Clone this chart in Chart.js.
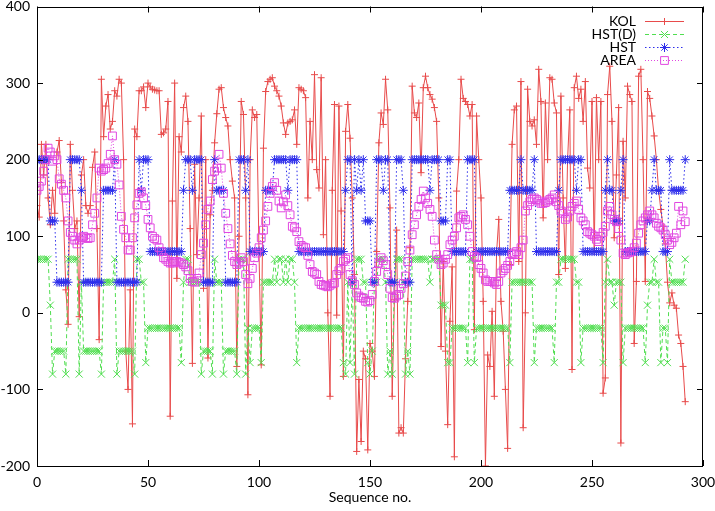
<!DOCTYPE html>
<html><head><meta charset="utf-8">
<script src="https://cdn.jsdelivr.net/npm/chart.js@4/dist/chart.umd.min.js"></script>
<style>html,body{margin:0;padding:0;background:#fff;}#wrap{width:715px;height:511px;}</style>
</head><body><div id="wrap"><canvas id="c" width="715" height="511"></canvas></div>
<script>
const SERIES_NAMES = ['KOL', 'HST(D)', 'HST', 'AREA'];
const X_TICKS = [0, 50, 100, 150, 200, 250, 300];
const Y_TICKS = [-200, -100, 0, 100, 200, 300, 400];
const X_TITLE = 'Sequence no.';

const KOL = [140,125,220,180,220,150,115,160,130,210,225,170,120,30,-15,220,160,110,120,-5,180,200,140,130,140,190,210,110,-35,
305,230,270,285,240,250,290,283,305,300,200,-50,-100,30,-145,240,230,290,290,295,268,300,295,292,291,290,290,233,235,240,276,-135,146,300,45,230,
210,268,283,250,110,-66,194,76,150,257,32,200,-59,128,160,222,260,292,294,268,255,244,200,172,150,-70,100,276,259,150,-107,
200,265,255,259,80,-68,215,289,302,305,307,296,290,283,270,248,233,248,250,252,265,220,294,292,290,281,150,250,200,311,187,163,
307,102,200,0,-109,160,272,-3,270,133,-83,237,272,228,150,50,-181,-87,-168,-50,-60,-179,-40,-50,-83,80,222,261,246,305,265,
137,-109,17,108,-157,-150,-157,-60,15,85,296,261,255,274,183,294,309,294,285,279,268,250,150,-44,67,-50,-146,-11,60,-188,159,
200,305,280,276,272,257,272,-22,257,200,150,15,-200,-55,-70,2,-109,78,122,15,-24,-100,-177,63,220,265,270,67,302,-150,0,292,250,
244,252,220,318,276,124,274,200,307,305,274,261,50,283,150,58,200,265,-74,294,309,280,292,250,302,189,163,276,80,281,200,
276,-105,-85,285,322,250,98,180,268,-170,224,150,296,285,276,-40,41,309,318,200,41,289,280,257,231,200,160,135,113,90,40,13,26,10,6,-29,-40,-70,-116];

const HST_D = [70,70,70,70,70,70,10,-80,-50,-50,-50,-50,-50,-80,70,70,70,70,70,-80,40,-50,-50,-50,-50,-50,-50,-50,-50,-80,40,40,40,
40,40,70,-80,-50,-50,-50,-50,-50,-50,-50,-80,70,70,40,40,-65,-20,-20,-20,-20,-20,-20,-20,-20,-20,-20,-20,-20,-20,-20,-20,
-65,40,70,70,40,40,40,40,40,-80,-50,-50,-50,-50,-80,70,40,40,40,-80,-50,-50,-50,-50,-50,-80,70,70,70,-80,-20,
-65,-20,-20,-20,-20,-65,40,40,40,40,40,70,40,70,70,40,70,40,70,70,40,-65,-20,-20,-20,-20,-20,-20,-20,-20,-20,-20,
-20,-20,-20,-20,-20,-20,-20,-20,-20,-20,-65,-80,40,-65,40,-80,70,70,70,40,40,-65,-80,-50,40,40,70,70,70,40,-80,
-50,-80,40,70,70,70,40,-80,-50,-80,70,70,70,70,70,70,70,70,40,70,70,70,70,10,10,10,-65,-65,-20,-20,-20,
-20,-20,-20,-20,-65,70,70,-65,-20,-20,-20,-20,-20,-20,-20,-20,-20,-20,-20,-20,-20,-20,-20,-65,40,40,40,40,40,40,40,40,40,
40,-65,-20,-20,-20,-20,-20,-20,-20,-20,-65,40,40,70,70,70,70,70,70,70,40,40,-65,-20,-20,-20,-20,-20,-20,-20,-20,
-20,-65,40,70,40,40,10,40,40,40,-65,-20,-20,-20,-20,-20,-20,-20,-20,-20,-65,10,40,40,70,40,40,-65,-20,-20,-65,70,40,40,40,40,40,40,70];

const HST = [200,200,200,200,200,200,120,120,120,40,40,40,40,40,40,200,200,200,200,200,160,40,40,40,40,40,40,40,40,40,160,160,160,
160,160,200,40,40,40,40,40,40,40,40,40,40,200,160,200,200,200,80,80,80,80,80,80,80,80,80,80,80,80,80,80,
80,160,200,200,200,160,200,200,200,200,40,40,40,40,40,200,160,160,160,160,40,40,40,40,40,40,200,200,200,160,200,
80,80,80,80,80,80,80,160,160,160,160,200,200,200,200,200,200,160,200,200,200,200,80,80,80,80,80,80,80,80,80,80,
80,80,80,80,80,80,80,80,80,80,80,160,200,200,40,200,160,200,160,200,120,120,120,40,40,200,200,200,160,200,200,
40,40,40,200,200,200,160,40,40,40,200,200,200,200,200,200,200,200,160,200,200,200,200,120,120,120,200,200,80,80,80,
80,80,80,80,200,200,200,200,80,80,80,80,80,80,80,80,80,80,80,80,80,80,80,160,160,160,160,160,200,160,160,160,160,
160,200,80,80,80,80,80,80,80,80,80,80,160,200,200,200,200,200,200,200,160,200,200,80,80,80,80,80,80,80,80,
80,80,160,200,160,160,120,120,120,160,200,80,80,80,80,80,80,80,80,80,80,120,120,160,200,160,160,160,80,80,80,200,160,160,160,160,160,160,200];

const AREA = [160,165,172,185,200,215,210,198,205,200,175,168,160,150,120,105,100,95,90,95,98,100,98,97,98,115,130,150,189,185,187,189,195,
207,231,200,194,167,126,109,98,82,82,98,124,141,156,158,150,140,122,111,100,97,95,85,80,72,70,67,65,65,67,67,66,
65,63,60,55,45,41,40,45,52,76,91,115,135,146,174,185,189,207,189,156,130,110,90,75,67,63,65,72,67,50,38,
45,58,72,78,85,98,108,120,139,156,165,170,160,146,137,145,154,140,128,113,111,106,93,88,86,85,75,63,54,52,50,41,
37,36,35,34,36,38,39,50,55,58,67,70,72,50,42,37,26,22,20,19,15,14,16,24,41,54,65,72,68,63,50,
32,20,19,22,24,32,38,48,67,82,102,115,128,139,148,159,150,143,135,126,95,76,70,63,65,70,76,89,95,100,111,
124,126,128,122,115,100,80,74,72,63,58,52,43,41,41,41,39,37,41,52,55,58,62,67,76,78,80,76,85,95,133,140,145,
148,150,148,146,143,143,144,146,148,150,154,145,140,133,130,122,125,133,139,143,146,135,124,120,115,106,104,102,100,96,93,
100,105,113,133,139,128,122,119,110,95,78,76,78,79,80,85,91,104,115,120,124,128,133,128,124,117,113,111,108,102,95,89,92,98,104,139,115,133,119];

const SEQ = KOL.map((_, i) => i);
const toPts = arr => arr.map((v, i) => ({x: SEQ[i], y: v}));

const FONT = {family: 'Lato, "Liberation Sans", sans-serif', size: 14};
const STYLES = [
  {color: 'rgb(232,75,75)', dash: [], point: 'cross', r: 3.5},
  {color: 'rgb(80,222,80)', dash: [4, 3], point: 'crossRot', r: 5},
  {color: 'rgb(45,45,235)', dash: [1.5, 2.5], point: 'star', r: 4.5},
  {color: 'rgb(225,70,225)', dash: [1, 2], point: 'rect', r: 5.5}
];
const VALUES = [KOL, HST_D, HST, AREA];

const datasets = VALUES.map((arr, k) => ({
  label: SERIES_NAMES[k],
  data: toPts(arr),
  borderColor: STYLES[k].color,
  borderWidth: 1,
  borderDash: STYLES[k].dash,
  pointStyle: STYLES[k].point,
  pointRadius: STYLES[k].r,
  pointBorderColor: STYLES[k].color,
  pointBackgroundColor: 'rgba(0,0,0,0)',
  pointBorderWidth: 1,
  tension: 0,
  fill: false,
  order: 3 - k
}));

function drawMarker(ctx, style, r, x, y) {
  if (Chart.helpers && Chart.helpers.drawPoint) {
    Chart.helpers.drawPoint(ctx, {pointStyle: style, radius: r, rotation: 0, borderWidth: 1}, x, y);
  }
}

const framePlugin = {
  id: 'frame',
  afterDatasetsDraw(chart) {
    const {ctx, chartArea: a, scales} = chart;
    ctx.save();
    ctx.strokeStyle = '#000';
    ctx.lineWidth = 1;
    ctx.setLineDash([]);
    ctx.strokeRect(Math.round(a.left) + 0.5, Math.round(a.top) + 0.5, Math.round(a.right - a.left) - 1, Math.round(a.bottom - a.top) - 1);
    const L = 6;
    ctx.beginPath();
    X_TICKS.forEach(v => {
      const px = Math.round(scales.x.getPixelForValue(v)) + 0.5;
      ctx.moveTo(px, a.bottom); ctx.lineTo(px, a.bottom - L);
      ctx.moveTo(px, a.top); ctx.lineTo(px, a.top + L);
    });
    Y_TICKS.forEach(v => {
      const py = Math.round(scales.y.getPixelForValue(v)) + 0.5;
      ctx.moveTo(a.left, py); ctx.lineTo(a.left + L, py);
      ctx.moveTo(a.right, py); ctx.lineTo(a.right - L, py);
    });
    ctx.stroke();
    // legend
    const textRight = 636, lineL = 645, lineR = 684, rows = [21, 34, 47, 60];
    ctx.font = FONT.size + 'px ' + FONT.family;
    ctx.textAlign = 'right';
    ctx.textBaseline = 'middle';
    SERIES_NAMES.forEach((name, k) => {
      const y = rows[k];
      ctx.fillStyle = '#000';
      ctx.fillText(name, textRight, y);
      ctx.strokeStyle = STYLES[k].color;
      ctx.setLineDash(STYLES[k].dash);
      ctx.beginPath();
      ctx.moveTo(lineL, y + 0.5); ctx.lineTo(lineR, y + 0.5);
      ctx.stroke();
      ctx.setLineDash([]);
      ctx.fillStyle = 'rgba(0,0,0,0)';
      drawMarker(ctx, STYLES[k].point, STYLES[k].r, (lineL + lineR) / 2, y + 0.5);
    });
    ctx.restore();
  }
};

new Chart(document.getElementById('c'), {
  type: 'line',
  data: {datasets},
  plugins: [framePlugin],
  options: {
    responsive: false,
    animation: false,
    devicePixelRatio: 1,
    layout: {padding: {left: 0, right: 12, top: 6, bottom: 0}},
    plugins: {legend: {display: false}, tooltip: {enabled: false}},
    scales: {
      x: {
        type: 'linear', min: 0, max: 300,
        afterBuildTicks: s => { s.ticks = X_TICKS.map(v => ({value: v})); },
        ticks: {font: FONT, color: '#000', padding: 8, maxRotation: 0, autoSkip: false},
        grid: {display: false, drawTicks: false},
        border: {display: false},
        title: {display: true, text: X_TITLE, font: FONT, color: '#000', padding: {top: 0, bottom: 5}},
        afterFit: s => { s.height = 45; s.paddingLeft = 0; s.paddingRight = 0; }
      },
      y: {
        type: 'linear', min: -200, max: 400,
        afterBuildTicks: s => { s.ticks = Y_TICKS.map(v => ({value: v})); },
        ticks: {font: FONT, color: '#000', padding: 7, autoSkip: false},
        grid: {display: false, drawTicks: false},
        border: {display: false},
        afterFit: s => { s.width = 37; s.paddingTop = 0; s.paddingBottom = 0; }
      }
    }
  }
});
</script></body></html>
